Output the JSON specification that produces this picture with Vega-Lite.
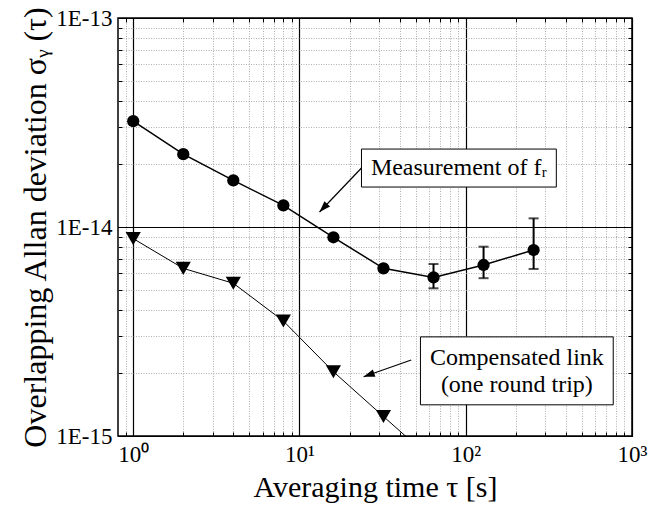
{
  "$schema": "https://vega.github.io/schema/vega-lite/v6.json",
  "autosize": {"type": "none"},
  "width": 514,
  "height": 418,
  "padding": {"left": 118, "top": 18, "right": 16, "bottom": 72},
  "background": "white",
  "config": {
    "view": {"stroke": "black", "strokeWidth": 1.5},
    "font": "Liberation Serif",
    "text": {"font": "Liberation Serif"},
    "axis": {"labelFont": "Liberation Serif", "titleFont": "Liberation Serif", "titleFontWeight": "normal", "labelColor": "black", "titleColor": "black", "tickColor": "black", "domain": false}
  },
  "datasets": {
    "meas": [
      {"tau": 1, "sigma": 3.21e-14},
      {"tau": 2, "sigma": 2.23e-14},
      {"tau": 4, "sigma": 1.67e-14},
      {"tau": 8, "sigma": 1.27e-14},
      {"tau": 16, "sigma": 8.93e-15},
      {"tau": 32, "sigma": 6.34e-15},
      {"tau": 64, "sigma": 5.74e-15},
      {"tau": 128, "sigma": 6.58e-15},
      {"tau": 256, "sigma": 7.76e-15}
    ],
    "err": [
      {"tau": 64, "lo": 5.09e-15, "hi": 6.65e-15},
      {"tau": 128, "lo": 5.69e-15, "hi": 8.05e-15},
      {"tau": 256, "lo": 6.3e-15, "hi": 1.10e-14}
    ],
    "comp": [
      {"tau": 1, "sigma": 8.8e-15},
      {"tau": 2, "sigma": 6.34e-15},
      {"tau": 4, "sigma": 5.38e-15},
      {"tau": 8, "sigma": 3.55e-15},
      {"tau": 16, "sigma": 2.03e-15},
      {"tau": 32, "sigma": 1.24e-15},
      {"tau": 64, "sigma": 7.6e-16}
    ],
    "boxes": [
      {"x1": 23.6, "x2": 350.6, "y1": 1.553e-14, "y2": 2.36e-14},
      {"x1": 53.4, "x2": 771, "y1": 1.41e-15, "y2": 2.98e-15}
    ],
    "labels": [
      {"x": 91, "y": 1.915e-14, "text": "Measurement of fᵣ"},
      {"x": 203, "y": 2.36e-15, "text": "Compensated link"},
      {"x": 203, "y": 1.75e-15, "text": "(one round trip)"}
    ],
    "arrows": [
      {"x1": 23.6, "y1": 1.915e-14, "x2": 13.2, "y2": 1.18e-14},
      {"x1": 47, "y1": 2.31e-15, "x2": 24.3, "y2": 1.92e-15}
    ]
  },
  "layer": [
    {
      "layer": [
        {
          "data": {"name": "meas"},
          "mark": {"type": "line", "color": "black", "strokeWidth": 1.5},
          "encoding": {
            "x": {"field": "tau", "type": "quantitative",
              "scale": {"type": "log", "domain": [0.81, 1000], "nice": false},
              "axis": {
                "orient": "bottom",
                "title": "Averaging time τ [s]",
                "titleFontSize": 30,
                "titlePadding": 2,
                "labelFontSize": 23,
                "labelPadding": 15,
                "labelOverlap": false,
                "labelFlush": false,
                "values": [0.9, 1, 2, 3, 4, 5, 6, 7, 8, 9, 10, 20, 30, 40, 50, 60, 70, 80, 90, 100, 200, 300, 400, 500, 600, 700, 800, 900, 1000],
                "labelExpr": "datum.value == 1 ? '10⁰' : datum.value == 10 ? '10¹' : datum.value == 100 ? '10²' : datum.value == 1000 ? '10³' : ''",
                "tickSize": {"condition": {"test": "indexof([1,10,100,1000], datum.value) >= 0", "value": -8}, "value": -4},
                "grid": true,
                "gridColor": {"condition": {"test": "indexof([1,10,100,1000], datum.value) >= 0", "value": "black"}, "value": "#9a9a9a"},
                "gridDash": {"condition": {"test": "indexof([1,10,100,1000], datum.value) >= 0", "value": []}, "value": [1, 1.5]},
                "gridWidth": {"condition": {"test": "indexof([1,10,100,1000], datum.value) >= 0", "value": 1.2}, "value": 0.8}
              }
            },
            "y": {"field": "sigma", "type": "quantitative",
              "scale": {"type": "log", "domain": [1e-15, 1e-13], "nice": false},
              "axis": {
                "orient": "left",
                "title": "Overlapping Allan deviation σᵧ (τ)",
                "titleFontSize": 32,
                "titlePadding": 3,
                "labelFontSize": 23,
                "labelPadding": 14,
                "labelOverlap": false,
                "labelFlush": false,
                "values": [1e-15, 2e-15, 3e-15, 4e-15, 5e-15, 6e-15, 7e-15, 8e-15, 9e-15, 1e-14, 2e-14, 3e-14, 4e-14, 5e-14, 6e-14, 7e-14, 8e-14, 9e-14, 1e-13],
                "labelExpr": "datum.value == 1e-13 ? '1E-13' : datum.value == 1e-14 ? '1E-14' : datum.value == 1e-15 ? '1E-15' : ''",
                "tickSize": {"condition": {"test": "indexof([1e-15,1e-14,1e-13], datum.value) >= 0", "value": -8}, "value": -4},
                "grid": true,
                "gridColor": {"condition": {"test": "indexof([1e-15,1e-14,1e-13], datum.value) >= 0", "value": "black"}, "value": "#9a9a9a"},
                "gridDash": {"condition": {"test": "indexof([1e-15,1e-14,1e-13], datum.value) >= 0", "value": []}, "value": [1, 1.5]},
                "gridWidth": {"condition": {"test": "indexof([1e-15,1e-14,1e-13], datum.value) >= 0", "value": 1.2}, "value": 0.8}
              }
            }
          }
        },
        {
          "data": {"name": "err"},
          "mark": {"type": "rule", "color": "black", "strokeWidth": 2},
          "encoding": {
            "x": {"field": "tau", "type": "quantitative"},
            "y": {"field": "lo", "type": "quantitative"},
            "y2": {"field": "hi"}
          }
        },
        {
          "data": {"name": "err"},
          "mark": {"type": "tick", "orient": "horizontal", "color": "black", "size": 10, "thickness": 2},
          "encoding": {
            "x": {"field": "tau", "type": "quantitative"},
            "y": {"field": "lo", "type": "quantitative"}
          }
        },
        {
          "data": {"name": "err"},
          "mark": {"type": "tick", "orient": "horizontal", "color": "black", "size": 10, "thickness": 2},
          "encoding": {
            "x": {"field": "tau", "type": "quantitative"},
            "y": {"field": "hi", "type": "quantitative"}
          }
        },
        {
          "data": {"name": "meas"},
          "mark": {"type": "point", "shape": "circle", "filled": true, "color": "black", "size": 150, "opacity": 1},
          "encoding": {
            "x": {"field": "tau", "type": "quantitative"},
            "y": {"field": "sigma", "type": "quantitative"}
          }
        },
        {
          "data": {"name": "comp"},
          "mark": {"type": "line", "color": "black", "strokeWidth": 1, "clip": true},
          "encoding": {
            "x": {"field": "tau", "type": "quantitative"},
            "y": {"field": "sigma", "type": "quantitative"}
          }
        },
        {
          "data": {"name": "comp"},
          "mark": {"type": "point", "shape": "triangle-down", "filled": true, "color": "black", "size": 230, "opacity": 1, "clip": true},
          "encoding": {
            "x": {"field": "tau", "type": "quantitative"},
            "y": {"field": "sigma", "type": "quantitative"}
          }
        },
        {
          "data": {"name": "arrows"},
          "mark": {"type": "rule", "color": "black", "strokeWidth": 1.2},
          "encoding": {
            "x": {"field": "x1", "type": "quantitative"},
            "y": {"field": "y1", "type": "quantitative"},
            "x2": {"field": "x2"},
            "y2": {"field": "y2"}
          }
        },
        {
          "data": {"name": "arrows"},
          "transform": [{"filter": "datum.x2 < 20"}],
          "mark": {"type": "point", "shape": "M0,0L-0.35,1L0.35,1Z", "filled": true, "color": "black", "opacity": 1, "size": 500, "angle": 223.7},
          "encoding": {
            "x": {"field": "x2", "type": "quantitative"},
            "y": {"field": "y2", "type": "quantitative"}
          }
        },
        {
          "data": {"name": "arrows"},
          "transform": [{"filter": "datum.x2 > 20"}],
          "mark": {"type": "point", "shape": "M0,0L-0.35,1L0.35,1Z", "filled": true, "color": "black", "opacity": 1, "size": 500, "angle": 250.7},
          "encoding": {
            "x": {"field": "x2", "type": "quantitative"},
            "y": {"field": "y2", "type": "quantitative"}
          }
        },
        {
          "data": {"name": "boxes"},
          "mark": {"type": "rect", "fill": "white", "stroke": "black", "strokeWidth": 1},
          "encoding": {
            "x": {"field": "x1", "type": "quantitative"},
            "x2": {"field": "x2"},
            "y": {"field": "y1", "type": "quantitative"},
            "y2": {"field": "y2"}
          }
        },
        {
          "data": {"name": "labels"},
          "mark": {"type": "text", "font": "Liberation Serif", "fontSize": 24, "color": "black", "align": "center", "baseline": "middle"},
          "encoding": {
            "x": {"field": "x", "type": "quantitative"},
            "y": {"field": "y", "type": "quantitative"},
            "text": {"field": "text"}
          }
        }
      ]
    },
    {
      "data": {"values": [{"tau": 1, "sigma": 1e-14}]},
      "mark": {"type": "point", "opacity": 0},
      "encoding": {
        "x": {"field": "tau", "type": "quantitative",
          "scale": {"type": "log", "domain": [0.81, 1000], "nice": false},
          "axis": {
            "orient": "top", "title": null, "labels": false, "grid": false,
            "values": [0.9, 1, 2, 3, 4, 5, 6, 7, 8, 9, 10, 20, 30, 40, 50, 60, 70, 80, 90, 100, 200, 300, 400, 500, 600, 700, 800, 900, 1000],
            "tickSize": {"condition": {"test": "indexof([1,10,100,1000], datum.value) >= 0", "value": -8}, "value": -4}
          }
        },
        "y": {"field": "sigma", "type": "quantitative",
          "scale": {"type": "log", "domain": [1e-15, 1e-13], "nice": false},
          "axis": {
            "orient": "right", "title": null, "labels": false, "grid": false,
            "values": [1e-15, 2e-15, 3e-15, 4e-15, 5e-15, 6e-15, 7e-15, 8e-15, 9e-15, 1e-14, 2e-14, 3e-14, 4e-14, 5e-14, 6e-14, 7e-14, 8e-14, 9e-14, 1e-13],
            "tickSize": {"condition": {"test": "indexof([1e-15,1e-14,1e-13], datum.value) >= 0", "value": -8}, "value": -4}
          }
        }
      }
    }
  ],
  "resolve": {"axis": {"x": "independent", "y": "independent"}}
}
